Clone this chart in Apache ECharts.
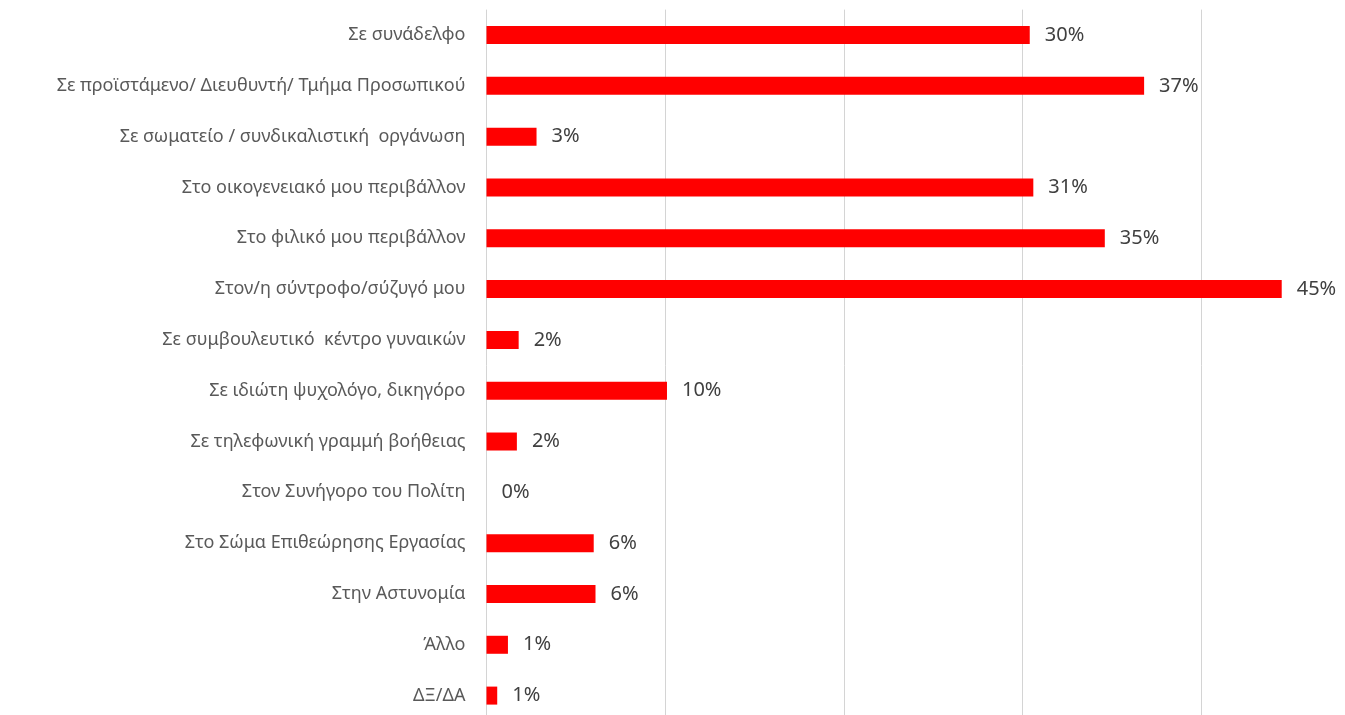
<!DOCTYPE html>
<html>
<head>
<meta charset="utf-8">
<script src="https://cdn.jsdelivr.net/npm/echarts@6/dist/echarts.min.js"></script>
<style>
    html, body { margin: 0; padding: 0; background: #fff; overflow: hidden; }
    /* the plot runs past the right and bottom edges of the window, as in the original */
    #chart { width: 1380px; height: 721px; }
</style>
</head>
<body>
<div id="chart"></div>
<script>
var categories = [
    'Σε συνάδελφο',
    'Σε προϊστάμενο/ Διευθυντή/ Τμήμα Προσωπικού',
    'Σε σωματείο / συνδικαλιστική  οργάνωση',
    'Στο οικογενειακό μου περιβάλλον',
    'Στο φιλικό μου περιβάλλον',
    'Στον/η σύντροφο/σύζυγό μου',
    'Σε συμβουλευτικό  κέντρο γυναικών',
    'Σε ιδιώτη ψυχολόγο, δικηγόρο',
    'Σε τηλεφωνική γραμμή βοήθειας',
    'Στον Συνήγορο του Πολίτη',
    'Στο Σώμα Επιθεώρησης Εργασίας',
    'Στην Αστυνομία',
    'Άλλο',
    'ΔΞ/ΔΑ'
];

var values = [30.4, 36.8, 2.8, 30.6, 34.6, 44.5, 1.8, 10.1, 1.7, 0, 6.0, 6.1, 1.2, 0.6];

var xTicks = [0, 10, 20, 30, 40, 50];

// based on prepared DOM, initialize echarts instance
var myChart = echarts.init(document.getElementById('chart'));

var option = {
    animation: false,
    grid: {
        left: 486.5,
        right: 0,
        top: 9.6,
        bottom: 0
    },
    xAxis: {
        type: 'value',
        min: xTicks[0],
        max: xTicks[xTicks.length - 1],
        interval: 10,
        axisLabel: { show: false },
        axisLine: { show: false },
        axisTick: { show: false },
        splitLine: { lineStyle: { color: '#d4d4d4', width: 1 } }
    },
    yAxis: {
        type: 'category',
        inverse: true,
        data: categories,
        axisLine: { show: false },
        axisTick: { show: false },
        axisLabel: {
            margin: 21,
            color: '#595959',
            fontFamily: 'Noto Sans',
            fontSize: 18
        }
    },
    series: [{
        type: 'bar',
        data: values,
        barWidth: 18,
        itemStyle: { color: '#ff0000' },
        label: {
            show: true,
            position: 'right',
            distance: 15,
            color: '#404040',
            fontFamily: 'Noto Sans',
            fontSize: 20,
            formatter: function(p) {
                return Math.round(p.value) + '%';
            }
        }
    }]
};

myChart.setOption(option);
</script>
</body>
</html>
